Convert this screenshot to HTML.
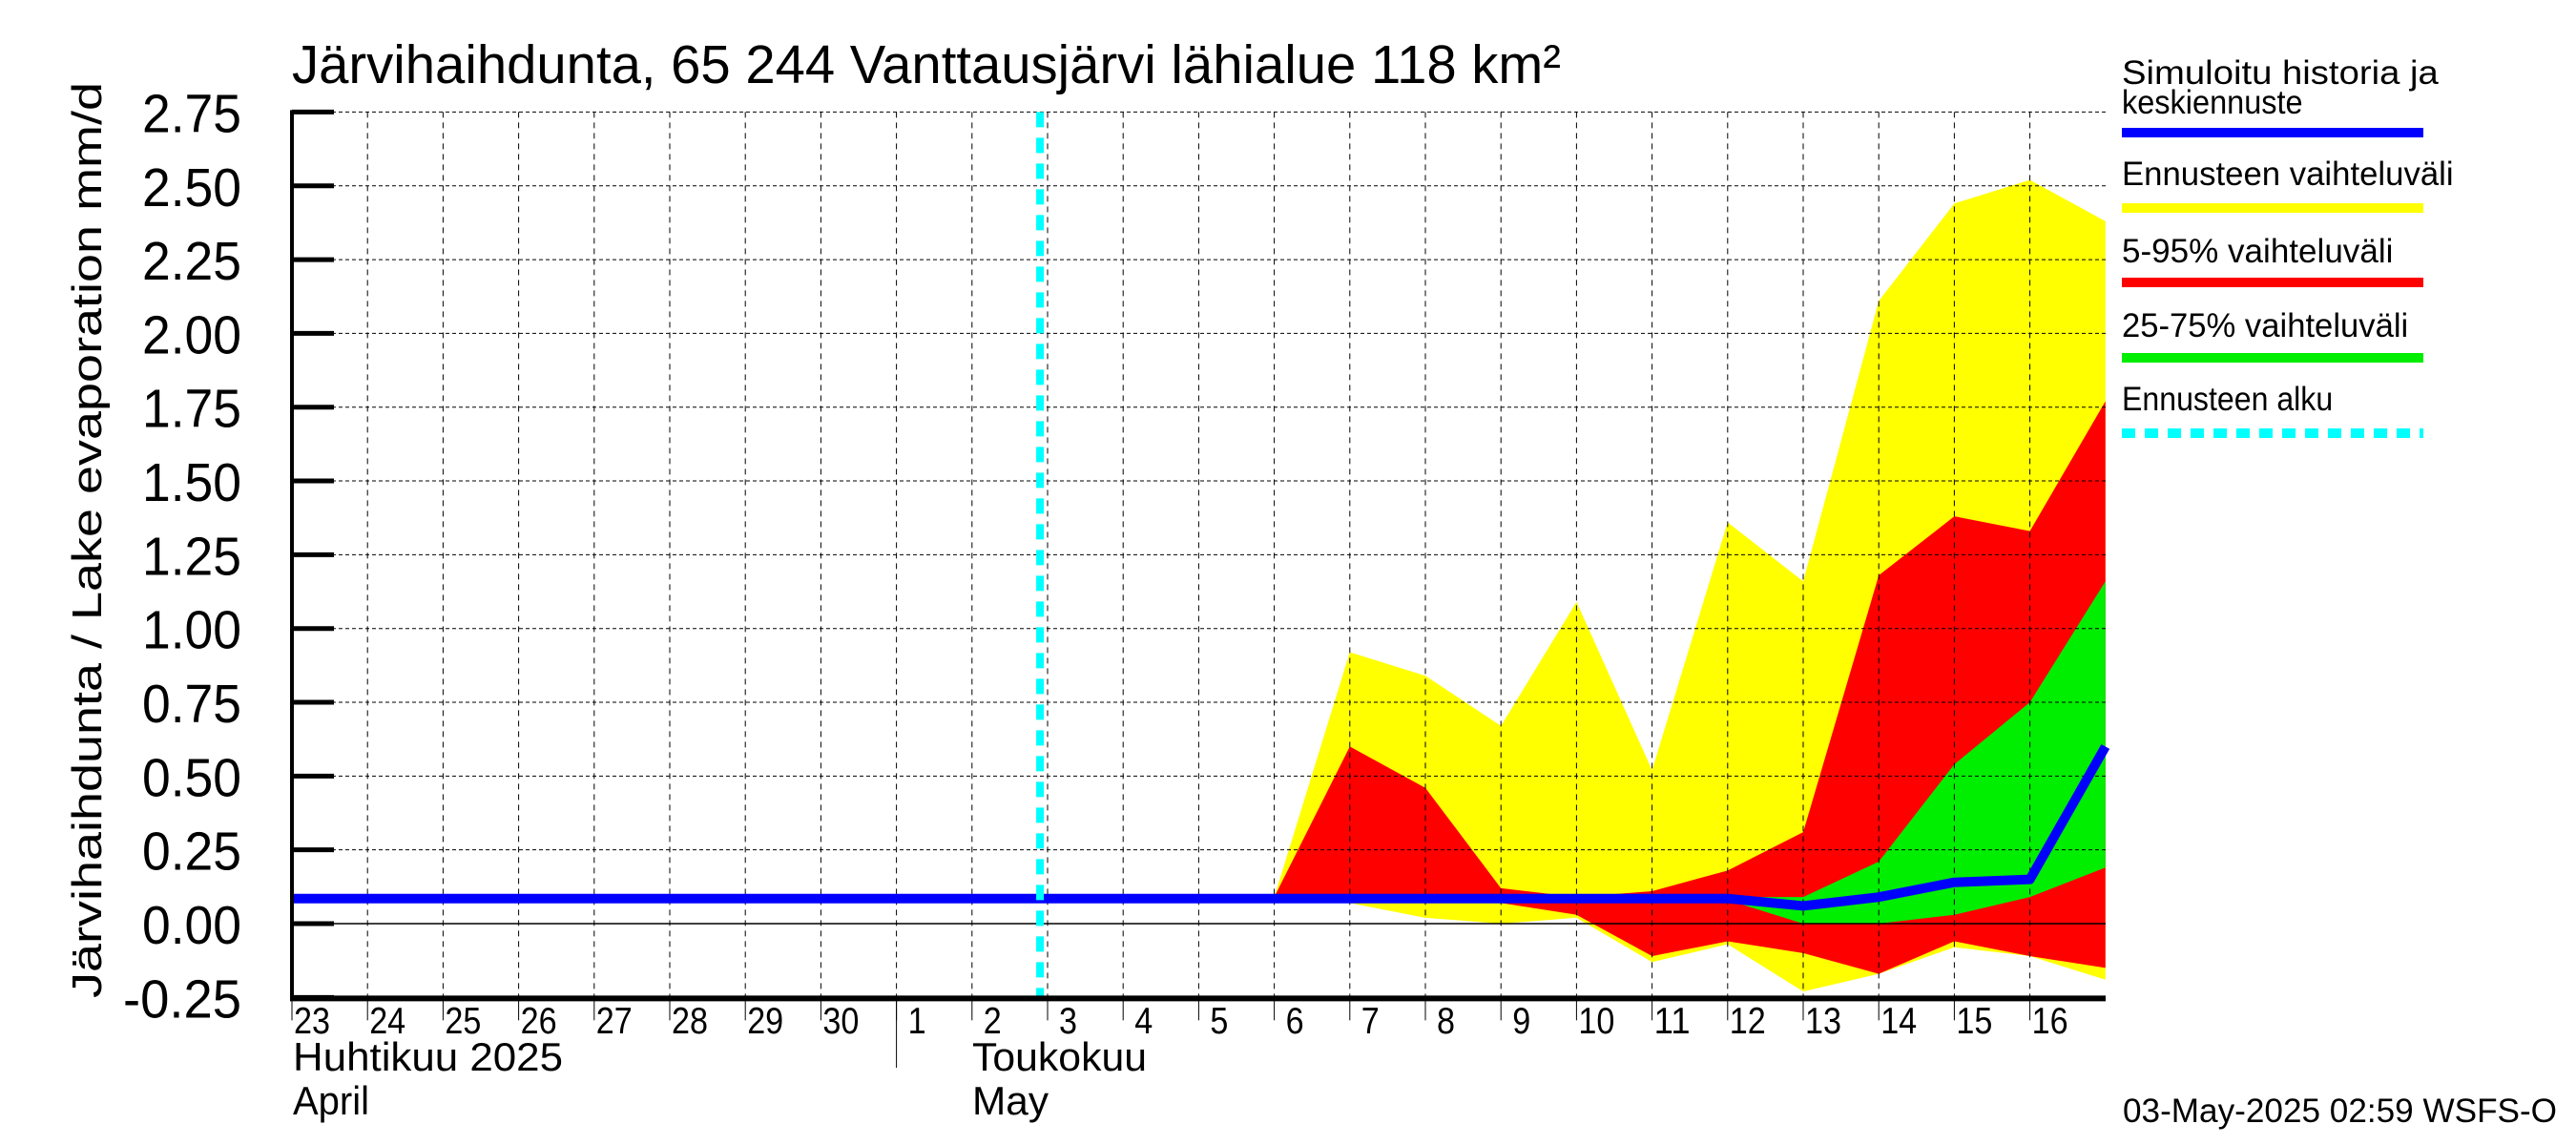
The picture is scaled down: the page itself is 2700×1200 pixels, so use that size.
<!DOCTYPE html>
<html><head><meta charset="utf-8"><style>
html,body{margin:0;padding:0;background:#fff;}
svg{display:block;font-family:"Liberation Sans",sans-serif;}
</style></head><body>
<svg id="chart" width="2700" height="1200" viewBox="0 0 2700 1200" xmlns="http://www.w3.org/2000/svg">
<g id="plot"></g>
</svg>
<script>
// data (x = day index, 0 = 23 April; 24 = 17 May end)
const dayLabels = ["23","24","25","26","27","28","29","30","1","2","3","4","5","6","7","8","9","10","11","12","13","14","15","16"];
const yTicks = [-0.25,0,0.25,0.5,0.75,1,1.25,1.5,1.75,2,2.25,2.5,2.75];
const yTickLabels = ["-0.25","0.00","0.25","0.50","0.75","1.00","1.25","1.50","1.75","2.00","2.25","2.50","2.75"];
const bandDays = [13,14,15,16,17,18,19,20,21,22,23,24];
const yellowUpper = [0.09,0.92,0.84,0.67,1.09,0.52,1.36,1.16,2.11,2.44,2.52,2.38];
const yellowLower = [0.09,0.07,0.02,0.00,0.02,-0.13,-0.07,-0.23,-0.17,-0.08,-0.11,-0.19];
const redUpper = [0.09,0.60,0.46,0.12,0.09,0.11,0.18,0.31,1.18,1.38,1.33,1.77];
const redLower = [0.09,0.08,0.08,0.07,0.03,-0.11,-0.06,-0.10,-0.17,-0.06,-0.11,-0.15];
const greenDays = [19,20,21,22,23,24];
const greenUpper = [0.09,0.09,0.21,0.54,0.75,1.16];
const greenLower = [0.08,0.00,0.00,0.03,0.09,0.19];
const medianDays = [0,19,20,21,22,23,24];
const medianValues = [0.085,0.085,0.06,0.09,0.14,0.15,0.60];
const forecastStart = 9.9;

const X0=306, X1=2207, DAYW=79.2, Y0=968, PERU=309.3;
const xs = d => X0 + d*DAYW;
const ys = v => Y0 - v*PERU;
const NS="http://www.w3.org/2000/svg";
const svg=document.getElementById('plot');
function mk(tag, attrs, parent){const e=document.createElementNS(NS,tag);for(const k in attrs)e.setAttribute(k,attrs[k]);(parent||svg).appendChild(e);return e;}

// title
let t=mk('text',{x:306,y:87,'font-size':57,textLength:1330,lengthAdjust:'spacingAndGlyphs'});
t.textContent="Järvihaihdunta, 65 244 Vanttausjärvi lähialue 118 km²";



// y-axis title
t=mk('text',{x:0,y:0,'font-size':44,'text-anchor':'middle',textLength:960,lengthAdjust:'spacingAndGlyphs',transform:'translate(106,566) rotate(-90)'});
t.textContent="Järvihaihdunta / Lake evaporation   mm/d";



// bands
function band(days, up, lo, color, name){
  let pts=[];
  for(let i=0;i<days.length;i++)pts.push(xs(days[i])+','+ys(up[i]));
  for(let i=days.length-1;i>=0;i--)pts.push(xs(days[i])+','+ys(lo[i]));
  const p=mk('polygon',{points:pts.join(' '),fill:color});
  
  
}
band(bandDays,yellowUpper,yellowLower,'#ffff00','yellow-range-band');
band(bandDays,redUpper,redLower,'#ff0000','red-5-95-band');
band(greenDays,greenUpper,greenLower,'#00ee00','green-25-75-band');

// grid
for(let d=1;d<24;d++){
  const g=mk('line',{x1:xs(d),x2:xs(d),y1:ys(2.75),y2:ys(-0.25),stroke:'#000','stroke-width':1,'stroke-dasharray':'6,5'});
  
  
}
yTicks.forEach((v,i)=>{
  if(v===0){
    const z=mk('line',{x1:X0,x2:X1,y1:ys(0),y2:ys(0),stroke:'#000','stroke-width':1.5});
    
    
  } else if(v>-0.25){
    const g=mk('line',{x1:X0,x2:X1,y1:ys(v),y2:ys(v),stroke:'#000','stroke-width':1,'stroke-dasharray':'4,3'});
    
    
  }
  const tk=mk('line',{x1:X0,x2:X0+44,y1:ys(v),y2:ys(v),stroke:'#000','stroke-width':5});
  
  
  const lb=mk('text',{x:253,y:ys(v)+21,'font-size':57,'text-anchor':'end',textLength:v<0?124:104,lengthAdjust:'spacingAndGlyphs'});
  lb.textContent=yTickLabels[i];
  
  
});

// median
let mp=medianDays.map((d,i)=>xs(d)+','+ys(medianValues[i])).join(' ');
const ml=mk('polyline',{points:mp,fill:'none',stroke:'#0000ff','stroke-width':10,'stroke-linejoin':'round'});



// forecast start
const fs=mk('line',{x1:xs(forecastStart),x2:xs(forecastStart),y1:ys(2.75),y2:ys(-0.25),stroke:'#00ffff','stroke-width':8,'stroke-dasharray':'16,11'});



// axes
let a=mk('line',{x1:X0,x2:X0,y1:ys(2.75)-2,y2:ys(-0.25)+3,stroke:'#000','stroke-width':4});


a=mk('line',{x1:X0-2,x2:X1,y1:ys(-0.25)+1,y2:ys(-0.25)+1,stroke:'#000','stroke-width':6});



// x ticks and labels
dayLabels.forEach((s,d)=>{
  const tk=mk('line',{x1:xs(d),x2:xs(d),y1:ys(-0.25),y2:ys(-0.25)+24,stroke:'#000','stroke-width':1});
  
  
  const lb=mk('text',{x:xs(d)+(s.length===1?12:2),y:1083,'font-size':39,textLength:s.length*19,lengthAdjust:'spacingAndGlyphs'});
  lb.textContent=s;
  
  
});
a=mk('line',{x1:xs(8),x2:xs(8),y1:ys(-0.25),y2:1119,stroke:'#000','stroke-width':1});


[["Huhtikuu  2025",307,1122,283,'month-label-april-fi'],["April",307,1168,80,'month-label-april-en'],["Toukokuu",1019,1122,183,'month-label-may-fi'],["May",1019,1168,80,'month-label-may-en']].forEach(m=>{
  const e=mk('text',{x:m[1],y:m[2],'font-size':42,textLength:m[3],lengthAdjust:'spacingAndGlyphs'});
  e.textContent=m[0];
  
  
});

// legend
const legend=[
 [["Simuloitu historia ja","keskiennuste"],[76,107],139,'#0000ff',null,'legend-median'],
 [["Ennusteen vaihteluväli"],[182],218,'#ffff00',null,'legend-yellow'],
 [["5-95% vaihteluväli"],[263],296,'#ff0000',null,'legend-red'],
 [["25-75% vaihteluväli"],[341],375,'#00ee00',null,'legend-green'],
 [["Ennusteen alku"],[418],454,'#00ffff','14,10','legend-forecast-start']
];
legend.forEach(L=>{
  const g=mk('g',{});
  
  
  L[0].forEach((s,i)=>{
    const e=mk('text',{x:2224,y:L[1][i]+12,'font-size':35,textLength:s.length*15.8,lengthAdjust:'spacingAndGlyphs'},g);
    e.textContent=s;
  });
  const ln=mk('line',{x1:2224,x2:2540,y1:L[2],y2:L[2],stroke:L[3],'stroke-width':10},g);
  if(L[4])ln.setAttribute('stroke-dasharray',L[4]);
});

// footer
t=mk('text',{x:2680,y:1176,'font-size':35,'text-anchor':'end',textLength:455,lengthAdjust:'spacingAndGlyphs'});
t.textContent="03-May-2025 02:59 WSFS-O";


</script>
</body></html>
